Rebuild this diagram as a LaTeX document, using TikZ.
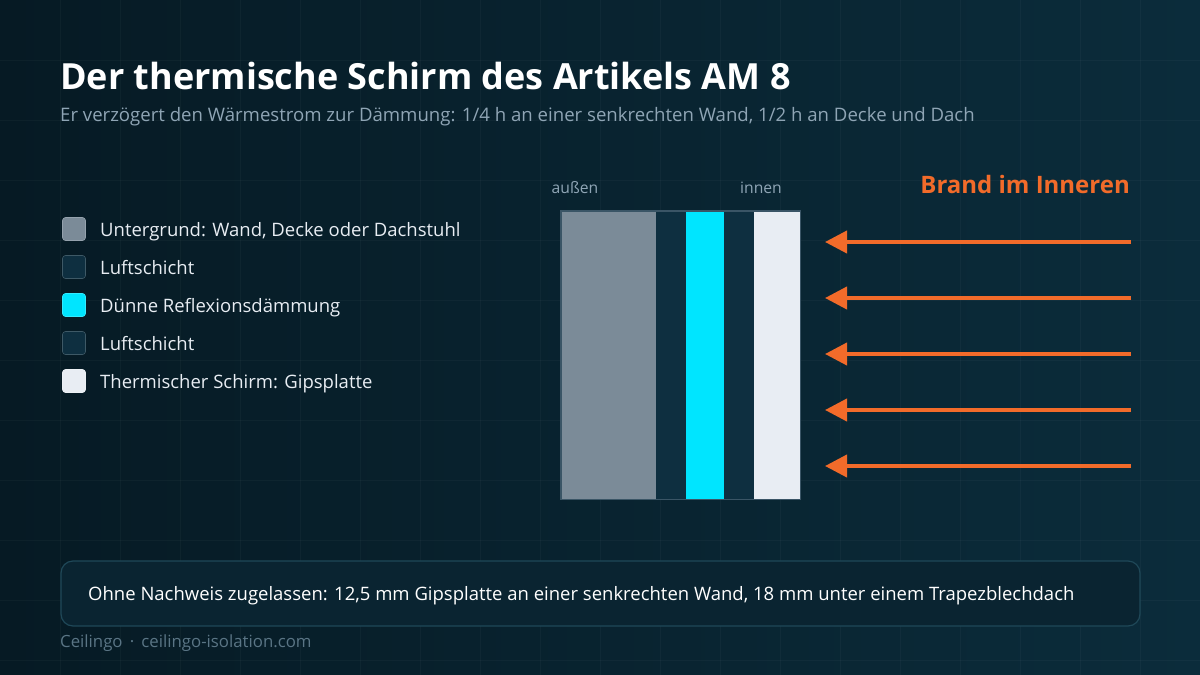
\documentclass[tikz,border=0pt]{standalone}
\usepackage{fontspec}
\setmainfont{Open Sans}
\usetikzlibrary{arrows.meta}

\definecolor{bgleft}{HTML}{061A24}
\definecolor{bgright}{HTML}{0B2C3B}
\definecolor{subgrey}{HTML}{8FA5B5}
\definecolor{footgrey}{HTML}{5A7585}
\definecolor{basegrey}{HTML}{7B8B98}
\definecolor{airgap}{HTML}{0E2F40}
\definecolor{foilcyan}{HTML}{00E5FF}
\definecolor{plaster}{HTML}{E8EDF3}
\definecolor{fireorange}{HTML}{F26B2A}
\definecolor{frameline}{HTML}{3A5566}
\definecolor{notefill}{HTML}{0A2431}
\definecolor{noteline}{HTML}{1F4858}

\begin{document}
\begin{tikzpicture}[
		x=1pt, y=-1pt,
		>={Triangle[length=22pt,width=22pt]},
		swatch/.style={draw=#1!80!white, fill=#1, rounded corners=3pt, minimum size=23pt, inner sep=0pt, line width=0.6pt},
		legendtext/.style={anchor=base west, text=plaster, font=\fontsize{18.5}{22}\selectfont, inner sep=0pt},
		layer/.style={anchor=north west, inner sep=0pt, minimum height=288pt, fill=#1},
		side/.style={text=subgrey, font=\fontsize{15.7}{18}\selectfont, inner sep=0pt, anchor=base},
		firearrow/.style={->, draw=fireorange, line width=4pt}
	]

		% Background and grid
		\useasboundingbox (0,0) rectangle (1200,675);
		\shade[left color=bgleft, right color=bgright] (0,0) rectangle (1200,675);
		\foreach \gx in {60,120,...,1140}
			\draw[white, opacity=0.03, line width=0.8pt] (\gx,0) -- (\gx,675);
		\foreach \gy in {60,120,...,660}
			\draw[white, opacity=0.03, line width=0.8pt] (0,\gy) -- (1200,\gy);

		% Title
		\node[anchor=base west, inner sep=0pt, text=white, font=\bfseries\fontsize{36}{40}\selectfont] (title) at (60,89) {Der thermische Schirm des Artikels AM 8};
		\node[anchor=base west, inner sep=0pt, text=subgrey, font=\fontsize{18.6}{22}\selectfont] (subtitle) at (60,121) {Er verzögert den Wärmestrom zur Dämmung: 1/4 h an einer senkrechten Wand, 1/2 h an Decke und Dach};

		% Legend
		\node[swatch=basegrey] (sw1) at (74,229) {};
		\node[swatch=airgap] (sw2) at (74,267) {};
		\node[swatch=foilcyan] (sw3) at (74,305) {};
		\node[swatch=airgap] (sw4) at (74,343) {};
		\node[swatch=plaster] (sw5) at (74,381) {};
		\node[legendtext] (lg1) at (100,236) {Untergrund: Wand, Decke oder Dachstuhl};
		\node[legendtext] (lg2) at (100,274) {Luftschicht};
		\node[legendtext] (lg3) at (100,312) {Dünne Reflexionsdämmung};
		\node[legendtext] (lg4) at (100,350) {Luftschicht};
		\node[legendtext] (lg5) at (100,388) {Thermischer Schirm: Gipsplatte};

		% Layers of the wall
		\node[layer=basegrey, minimum width=95pt] (untergrund) at (561,211) {};
		\node[layer=airgap, minimum width=30pt] (luft1) at (656,211) {};
		\node[layer=foilcyan, minimum width=38pt] (folie) at (686,211) {};
		\node[layer=airgap, minimum width=30pt] (luft2) at (724,211) {};
		\node[layer=plaster, minimum width=46pt] (gips) at (754,211) {};
		\draw[frameline, line width=1.5pt] (untergrund.north west) rectangle (gips.south east);
		\node[side] (aussen) at (575,193) {außen};
		\node[side] (innen) at (761,193) {innen};

		% Fire side
		\node[anchor=base east, inner sep=0pt, text=fireorange, font=\bfseries\fontsize{24}{28}\selectfont] (brand) at (1130,193) {Brand im Inneren};
		\coordinate (s1) at (1131,242); \coordinate (e1) at (825,242);
		\coordinate (s2) at (1131,298); \coordinate (e2) at (825,298);
		\coordinate (s3) at (1131,354); \coordinate (e3) at (825,354);
		\coordinate (s4) at (1131,410); \coordinate (e4) at (825,410);
		\coordinate (s5) at (1131,466); \coordinate (e5) at (825,466);
		\draw[firearrow] (s1) -- (e1);
		\draw[firearrow] (s2) -- (e2);
		\draw[firearrow] (s3) -- (e3);
		\draw[firearrow] (s4) -- (e4);
		\draw[firearrow] (s5) -- (e5);

		% Note and footer
		\draw[fill=notefill, draw=noteline, line width=1.2pt, rounded corners=12pt] (61,561) rectangle (1140,626);
		\node[anchor=base west, inner sep=0pt, text=white, font=\fontsize{18.5}{22}\selectfont] (note) at (88,600) {Ohne Nachweis zugelassen: 12,5 mm Gipsplatte an einer senkrechten Wand, 18 mm unter einem Trapezblechdach};
		\node[anchor=base west, inner sep=0pt, text=footgrey, font=\fontsize{16.8}{20}\selectfont] (footer) at (60,647) {Ceilingo \,·\, ceilingo-isolation.com};
	\end{tikzpicture}
\end{document}
